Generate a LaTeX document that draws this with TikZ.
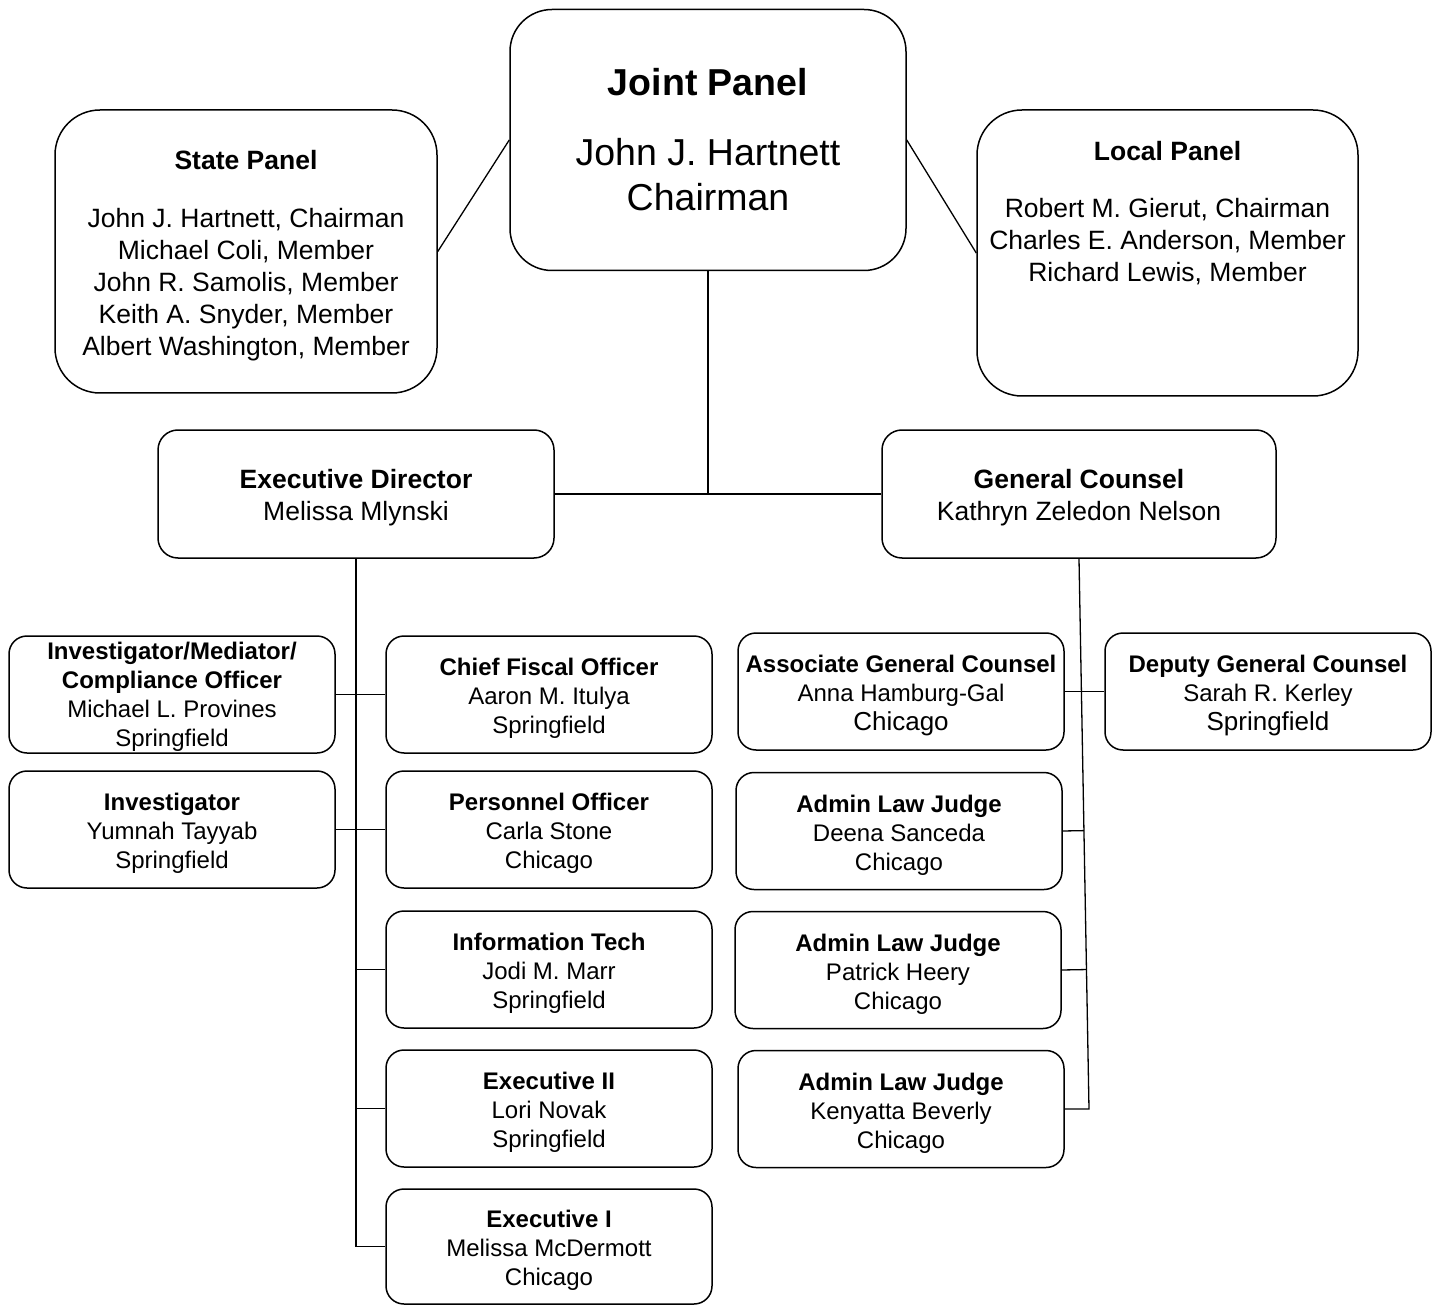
\documentclass[tikz,border=0pt]{standalone}
\usepackage{fontspec}
\setmainfont{Liberation Sans}
\usetikzlibrary{calc}
\newcommand{\topstrut}[1]{\rule{0pt}{#1}}
\newcommand{\botstrut}[1]{\rule[-#1]{0pt}{#1}}
\newcommand{\bt}{\topstrut{26pt}}
\newcommand{\bb}{\botstrut{5.5pt}}
\newcommand{\mt}{\topstrut{27.7pt}}
\newcommand{\mb}{\botstrut{6pt}}
\tikzset{
  box/.style={draw, line width=1.5pt, rounded corners=18pt, align=center, inner sep=0pt,
    minimum width=326pt, minimum height=117pt, font=\fontsize{24}{29}\selectfont},
  panel/.style={draw, line width=1.5pt, rounded corners=45pt, align=center, inner sep=0pt},
  mid/.style={draw, line width=1.5pt, rounded corners=20pt, align=center, inner sep=0pt,
    minimum width=396pt, minimum height=128pt, font=\fontsize{26.5}{32}\selectfont},
  paneltext/.style={align=center, inner sep=0pt, font=\fontsize{26.5}{32}\selectfont},
  conn/.style={line width=1.3pt},
}
\begin{document}
\begin{tikzpicture}[x=1pt,y=-1pt]
\useasboundingbox (0,0) rectangle (1443,1305);
% top level
\node[panel, minimum width=396pt, minimum height=261pt, rounded corners=42pt,
  font=\fontsize{37.5}{45}\selectfont] (joint) at (708,140)
  {\textbf{Joint Panel}\\[25pt]John J. Hartnett\\Chairman};
\node[panel, minimum width=382pt, minimum height=283pt] (state) at (246,251.5) {};
\node[paneltext] (statetext) at (246,256)
  {\textbf{State Panel}\\[26pt]John J. Hartnett, Chairman\\Michael Coli, Member\\John R. Samolis, Member\\Keith A. Snyder, Member\\Albert Washington, Member};
\node[panel, minimum width=381pt, minimum height=286pt] (local) at (1167.5,253) {};
\node[paneltext, anchor=north] (localtext) at ($(local.north)+(0,32)$)
  {\textbf{Local Panel}\\[25pt]Robert M. Gierut, Chairman\\Charles E. Anderson, Member\\Richard Lewis, Member};
% second level
\node[mid] (exec) at (356,494) {\mt\textbf{Executive Director}\\Melissa Mlynski\mb};
\node[mid, minimum width=394pt] (gc) at (1079,494) {\mt\textbf{General Counsel}\\Kathryn Zeledon Nelson\mb};
% executive director staff
\node[box] (inv1) at (172,694.5) {\topstrut{23pt}\textbf{Investigator/Mediator/}\\\textbf{Compliance Officer}\\Michael L. Provines\\Springfield\bb};
\node[box] (inv2) at (172,829.5) {\bt\textbf{Investigator}\\Yumnah Tayyab\\Springfield\bb};
\node[box] (cfo) at (549,694.5) {\bt\textbf{Chief Fiscal Officer}\\Aaron M. Itulya\\Springfield\bb};
\node[box] (pers) at (549,829.5) {\bt\textbf{Personnel Officer}\\Carla Stone\\Chicago\bb};
\node[box] (it) at (549,969.5) {\bt\textbf{Information Tech}\\Jodi M. Marr\\Springfield\bb};
\node[box] (ex2) at (549,1108.5) {\bt\textbf{Executive II}\\Lori Novak\\Springfield\bb};
\node[box, minimum height=115pt] (ex1) at (549,1246.5) {\bt\textbf{Executive I}\\Melissa McDermott\\Chicago\bb};
% general counsel staff
\node[box] (agc) at (901,691.5) {\bt\textbf{Associate General Counsel}\\Anna Hamburg-Gal\\{\fontsize{26}{31}\selectfont Chicago}\bb};
\node[box] (dgc) at (1268,691.5) {\bt\textbf{Deputy General Counsel}\\Sarah R. Kerley\\{\fontsize{26}{31}\selectfont Springfield}\bb};
\node[box] (alj1) at (899,831) {\bt\textbf{Admin Law Judge}\\Deena Sanceda\\Chicago\bb};
\node[box] (alj2) at (898,970) {\bt\textbf{Admin Law Judge}\\Patrick Heery\\Chicago\bb};
\node[box] (alj3) at (901,1109) {\bt\textbf{Admin Law Judge}\\Kenyatta Beverly\\Chicago\bb};
% connectors
\draw[conn] (state.east) -- (joint.west);
\draw[conn] (joint.east) -- (local.west);
\draw[conn] (joint.south) -- (joint.south |- exec.east);
\draw[conn] (exec.east) -- (gc.west);
\draw[conn] (exec.south) -- (exec.south |- ex1.west) -- (ex1.west);
\draw[conn] (inv1.east) -- (cfo.west);
\draw[conn] (inv2.east) -- (pers.west);
\draw[conn] (it.west) -- (it.west -| exec.south);
\draw[conn] (ex2.west) -- (ex2.west -| exec.south);
\coordinate (gcend) at (1089,1109);
\draw[conn] (gc.south) -- (gcend) -- (alj3.east);
\draw[conn] (agc.east) -- (dgc.west);
\draw[conn] (alj1.east) -- ($(gc.south)!(alj1.east)!(gcend)$);
\draw[conn] (alj2.east) -- ($(gc.south)!(alj2.east)!(gcend)$);
\end{tikzpicture}
\end{document}
